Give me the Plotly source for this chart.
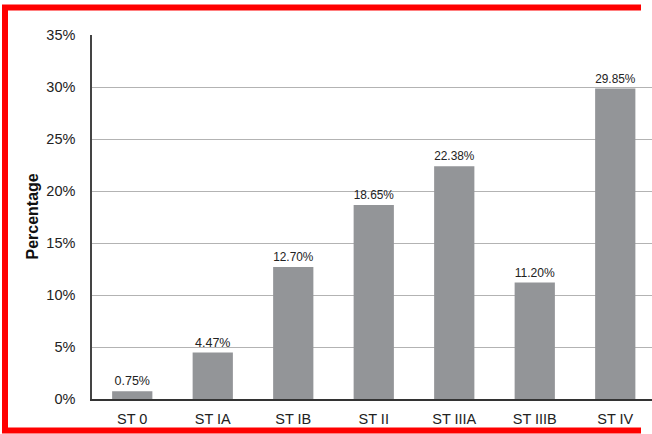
import plotly.graph_objects as go

categories = ["ST 0", "ST IA", "ST IB", "ST II", "ST IIIA", "ST IIIB", "ST IV"]
percentages = [0.75, 4.47, 12.70, 18.65, 22.38, 11.20, 29.85]
y_tick_values = [0, 5, 10, 15, 20, 25, 30, 35]
y_tick_labels = ["0%", "5%", "10%", "15%", "20%", "25%", "30%", "35%"]

W, H = 652, 434
L, R, T, B = 92, 0, 35, 35
pw, ph = W - L - R, H - T - B

def px(x):
    return (x - L) / pw

def py(y):
    return (H - B - y) / ph

fig = go.Figure(
    go.Bar(
        x=categories,
        y=percentages,
        text=[f"{v:.2f}%" for v in percentages],
        textposition="outside",
        textfont=dict(size=12.5, color="#222222"),
        marker=dict(color="#939598", line=dict(width=0)),
        width=0.5,
        cliponaxis=False,
    )
)

red = dict(color="#ff0000", width=6)
fig.update_layout(
    width=W,
    height=H,
    margin=dict(l=L, r=R, t=T, b=B),
    paper_bgcolor="white",
    plot_bgcolor="white",
    font=dict(family="Liberation Sans, Arial, sans-serif", size=14, color="#222222"),
    showlegend=False,
    xaxis=dict(
        showline=True,
        linecolor="#333333",
        linewidth=1.5,
        ticks="",
        ticklabelstandoff=6,
        tickfont=dict(size=14.5),
        range=[-0.5, -0.5 + pw / 80.5],
    ),
    yaxis=dict(
        range=[0, 35],
        tickvals=y_tick_values,
        ticktext=y_tick_labels,
        showgrid=True,
        gridcolor="#b3b3b3",
        gridwidth=1,
        zeroline=False,
        showline=True,
        linecolor="#444444",
        linewidth=1.5,
        ticks="",
        ticklabelstandoff=12,
        tickfont=dict(size=14.5),
    ),
    shapes=[
        dict(type="line", xref="paper", yref="paper",
             x0=px(5), x1=px(5), y0=py(433), y1=py(5), line=red, layer="above"),
        dict(type="line", xref="paper", yref="paper",
             x0=px(2), x1=px(641), y0=py(7.5), y1=py(7.5), line=red, layer="above"),
        dict(type="line", xref="paper", yref="paper",
             x0=px(2), x1=px(641), y0=py(430.5), y1=py(430.5), line=red, layer="above"),
    ],
    annotations=[
        dict(
            text="<b>Percentage</b>",
            xref="paper",
            yref="paper",
            x=px(31.5),
            y=0.5,
            textangle=-90,
            showarrow=False,
            font=dict(size=16, color="#111111"),
            xanchor="center",
            yanchor="middle",
        )
    ],
)

fig.write_html(
    "out.html",
    config={"displayModeBar": False},
    post_script="document.body.style.margin='0';document.body.style.overflow='hidden';",
)
